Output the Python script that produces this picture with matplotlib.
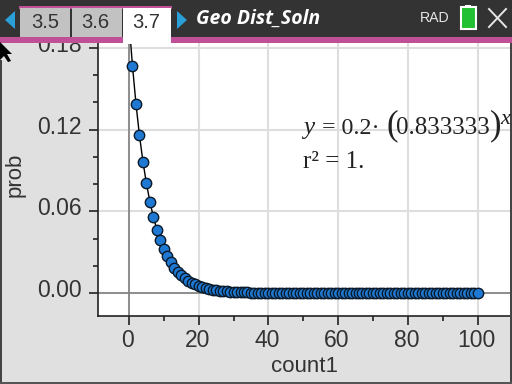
import matplotlib.pyplot as plt
from matplotlib.patches import Polygon, Rectangle
from matplotlib.transforms import ScaledTranslation

# values
COUNT = list(range(1, 101))
PROB = [
    0.1667, 0.1389, 0.1157, 0.0965, 0.0804, 0.0670, 0.0558, 0.0465, 0.0388, 0.0323,
    0.0269, 0.0224, 0.0187, 0.0156, 0.0130, 0.0108, 0.0090, 0.0075, 0.0063, 0.0052,
    0.0044, 0.0036, 0.0030, 0.0025, 0.0021, 0.0017, 0.0015, 0.0012, 0.0010, 0.0008,
    0.0007, 0.0006, 0.0005, 0.0004, 0.0003, 0.0002, 0.0002, 0.0001, 0.0001, 0.0001,
] + [0.0] * 60
FIT_START_X = [0.5]
FIT_START_Y = [0.183]

TABS = ["3.5", "3.6", "3.7"]
XTICKS = [0, 20, 40, 60, 80, 100]
XMINOR = [10, 30, 50, 70, 90]
YTICKS = [0.00, 0.06, 0.12, 0.18]
YMINOR = [0.02, 0.04, 0.08, 0.10, 0.14, 0.16]

W, H = 512, 384
X0, PX_X = 129, 3.485
Y0, PX_Y = 293, 1362
LEFT, RIGHT, TOP, BOTTOM = 98, 510, 43, 316

plt.rcParams["font.family"] = ["Liberation Sans", "DejaVu Sans"]

fig = plt.figure(figsize=(W / 100, H / 100), dpi=100, facecolor="#e0e0e0")
ax = fig.add_axes([LEFT / W, 1 - BOTTOM / H, (RIGHT - LEFT) / W, (BOTTOM - TOP) / H])
ax.set_xlim((LEFT - X0) / PX_X, (RIGHT - X0) / PX_X)
ax.set_ylim((Y0 - BOTTOM) / PX_Y, (Y0 - TOP) / PX_Y)

ax.plot(FIT_START_X + COUNT, FIT_START_Y + PROB, color="black", lw=1, zorder=3)
ax.plot(COUNT, PROB, ls="none", marker="o", ms=7.5, mfc="#1f78d1", mec="#0a1a2a",
        mew=1, zorder=4, clip_on=False)

ax.axhline(0, color="#808080", lw=1.2, zorder=2)
ax.axvline(0, color="#808080", lw=1.2, zorder=2)
ax.set_xticks(XTICKS)
ax.set_xticks(XMINOR, minor=True)
ax.set_yticks(YTICKS)
ax.set_yticks(YMINOR, minor=True)
ax.set_yticklabels([f"{v:.2f}" for v in YTICKS])
ax.grid(True, which="major", color="#dedede", lw=1.5, zorder=1)
ax.tick_params(which="major", length=6.5, width=1.2, color="#222222",
               labelsize=16.5, labelcolor="#333333")
ax.tick_params(which="minor", length=3.5, width=1.2, color="#222222")
ax.tick_params(axis="y", which="major", pad=5)
ax.tick_params(axis="x", which="major", pad=3)
# the calculator sets its tick labels a little off their ticks
for lab in ax.get_yticklabels():
    lab.set_transform(lab.get_transform() + ScaledTranslation(0, 0.05, fig.dpi_scale_trans))
for lab in ax.get_xticklabels():
    lab.set_transform(lab.get_transform() + ScaledTranslation(-0.015, 0, fig.dpi_scale_trans))
for side in ["top", "right"]:
    ax.spines[side].set_visible(False)
for side in ["left", "bottom"]:
    ax.spines[side].set_linewidth(1.2)
    ax.spines[side].set_color("#222222")
ax.set_xlabel("count1", fontsize=16, color="#333333")
ax.set_ylabel("prob", fontsize=16, color="#333333")
ax.xaxis.set_label_coords(0.5, -0.147)
ax.yaxis.set_label_coords(-0.177, 0.518)

# overlay in pixel coordinates for the calculator's title bar and the equation
top = fig.add_axes([0, 0, 1, 1], facecolor="none")
top.set_xlim(0, W)
top.set_ylim(H, 0)
top.axis("off")


def box(x, y, w, h, color, **kw):
    top.add_patch(Rectangle((x, y), w, h, fc=color, ec="none", **kw))


box(0, 0, W, 37, "#333333")
box(0, 37, W, 6, "#c04f98")
box(19, 6, 153, 3, "#c04f98")
box(20, 8, 50, 29, "#c2c2c2")
box(72, 8, 50, 29, "#c2c2c2")
box(123, 8, 48, 36, "white")
for label, cx in zip(TABS, [45, 95, 146]):
    top.text(cx, 22, label, ha="center", va="center", fontsize=14.5, color="#333333")

top.add_patch(Polygon([(15, 11), (15, 29), (5, 20)], fc="#2a9fd8", ec="none"))
top.add_patch(Polygon([(177, 11), (177, 29), (187, 20)], fc="#2a9fd8", ec="none"))
top.text(196, 19, "Geo Dist_Soln", ha="left", va="center", fontsize=14,
         color="white", style="italic", weight="bold", family="Open Sans")
top.text(420, 18, "RAD", ha="left", va="center", fontsize=10.2, color="#e6e6e6")
top.add_patch(Rectangle((460.5, 7), 15, 22, fc="#22c033", ec="white", lw=1.5))
box(465, 4.5, 6, 2.5, "white")
top.plot([489, 506], [9, 27], color="#e6e6e6", lw=1.4)
top.plot([489, 506], [27, 9], color="#e6e6e6", lw=1.4)

# cursor arrow and screen edges
top.add_patch(Polygon([(0, 42), (12, 54), (7, 54), (11, 61), (8, 62), (4, 56), (0, 60)],
                      fc="black", ec="none"))
box(0, 60, 1.5, H - 60, "#444444")
box(510, 43, 2, H - 43, "#444444")
box(0, 382, W, 2, "#555555")

# regression text
SERIF = "Liberation Serif"
EQ = {"family": SERIF, "color": "#222222", "va": "baseline", "clip_on": True}
top.text(303, 134, "y", fontsize=18, style="italic", **EQ)
top.text(322, 134, "= 0.2·", fontsize=17.3, **EQ)
top.text(386, 134, "(", fontsize=25, **EQ)
top.text(396, 134, "0.833333", fontsize=18, **EQ)
top.text(490, 134, ")", fontsize=25, **EQ)
top.text(500, 124, "x", fontsize=16, style="italic", **EQ)
top.text(303, 168, "r² = 1.", fontsize=18, **EQ)

plt.savefig("out.png", dpi=100, facecolor=fig.get_facecolor())
